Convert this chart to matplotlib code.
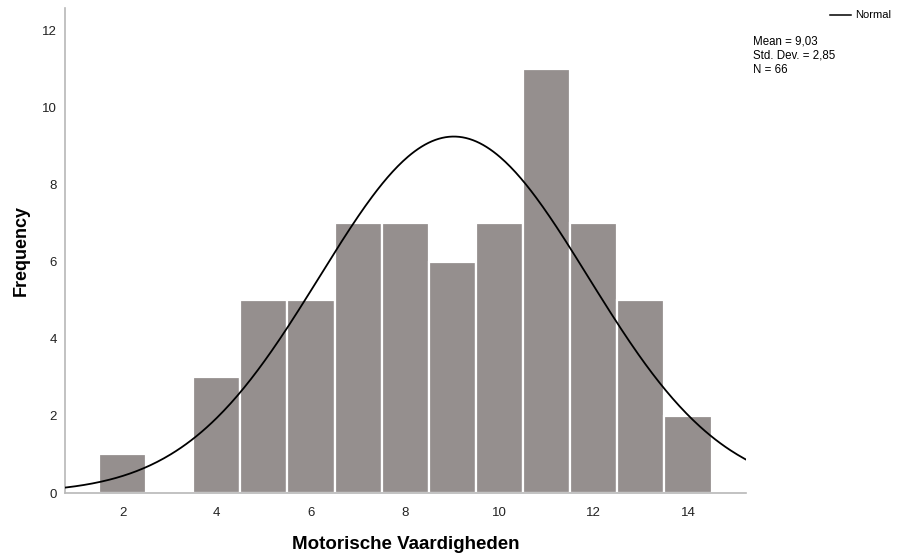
import numpy as np
import matplotlib
matplotlib.use("Agg")
import matplotlib.pyplot as plt

plt.rcParams['font.family'] = ['Liberation Sans', 'DejaVu Sans']

# Histogram of motor skills scores
scores = [2, 3, 4, 5, 6, 7, 8, 9, 10, 11, 12, 13, 14]
counts = [1, 0, 3, 5, 5, 7, 7, 6, 7, 11, 7, 5, 2]
mean_val = 9.03
std_val = 2.85
n_total = 66
y_ticks = [0, 2, 4, 6, 8, 10, 12]
x_ticks = [2, 4, 6, 8, 10, 12, 14]

fig = plt.figure(figsize=(8.98, 5.57), dpi=100)
ax = fig.add_axes([0.0724, 0.1149, 0.7583, 0.8707])

ax.bar(scores, counts, width=1.0, color='#958f8e', edgecolor='white',
       linewidth=1.6, zorder=2)

xlo, xhi = 0.78, 15.23
xs = np.linspace(xlo, xhi, 400)
pdf = n_total * np.exp(-0.5 * ((xs - mean_val) / std_val) ** 2) / (std_val * np.sqrt(2 * np.pi))
ax.plot(xs, pdf, color='black', linewidth=1.3, zorder=3)

ax.set_xlim(xlo, xhi)
ax.set_ylim(0, 12.57)
ax.set_xticks(x_ticks)
ax.set_yticks(y_ticks)
ax.tick_params(length=0, labelsize=9.5, colors='#222222', pad=10)
ax.tick_params(axis='y', pad=6)

for side in ['top', 'right']:
    ax.spines[side].set_visible(False)
for side in ['left', 'bottom']:
    ax.spines[side].set_color('#b8b8b8')
    ax.spines[side].set_linewidth(1.2)

ax.set_xlabel('Motorische Vaardigheden', fontsize=13.5, fontweight='bold', labelpad=12)
ax.set_ylabel('Frequency', fontsize=13, fontweight='bold', labelpad=9)

# Legend and summary statistics in the right margin
fig.add_artist(plt.Line2D([830 / 898, 851 / 898], [1 - 15 / 557, 1 - 15 / 557],
                          color='black', linewidth=1.1))
fig.text(855 / 898, 1 - 15 / 557, 'Normal', fontsize=8, va='center', ha='left')
fig.text(753 / 898, 1 - 35 / 557,
         'Mean = 9,03\nStd. Dev. = 2,85\nN = 66',
         fontsize=8.3, va='top', ha='left', linespacing=1.3)

fig.savefig('out.png', dpi=100, facecolor='white')
